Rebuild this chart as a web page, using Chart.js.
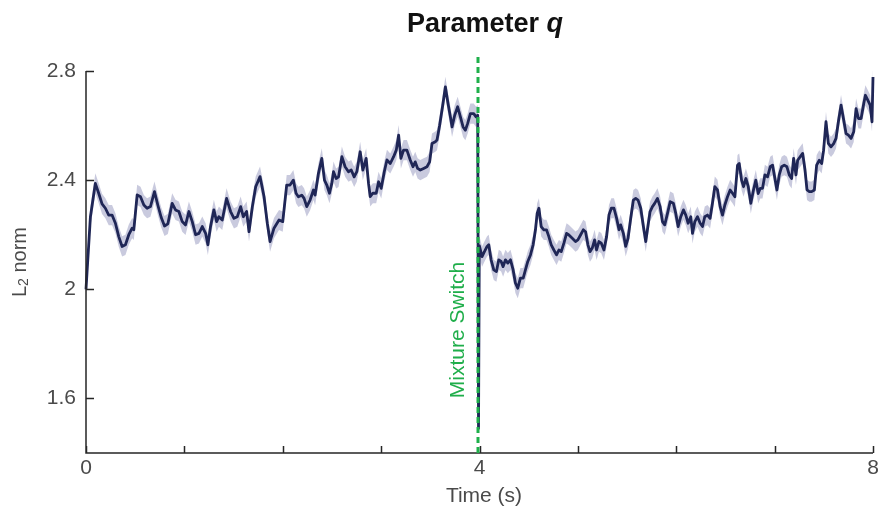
<!DOCTYPE html>
<html><head><meta charset="utf-8">
<script src="https://cdn.jsdelivr.net/npm/chart.js@4.4.1/dist/chart.umd.min.js"></script>
<style>html,body{margin:0;padding:0;background:#fff;}#wrap{width:883px;height:514px;position:relative;}</style>
</head><body><div id="wrap"><canvas id="c" width="883" height="514"></canvas></div>
<script>
const chartTitle = 'Parameter ';
const titleSymbol = 'q';
const xAxisTitle = 'Time (s)';
const yAxisTitleMain = 'L';
const yAxisTitleSub = '2';
const yAxisTitleRest = ' norm';
const switchLabel = 'Mixture Switch';
const switchTime = 4;
const xTickLabels = [0, 4, 8];
const xTickMarks = [0, 1, 2, 3, 4, 5, 6, 7, 8];
const yTicks = [1.6, 2, 2.4, 2.8];
const yTickLabels = ['1.6', '2', '2.4', '2.8'];
const bandHalfWidth = 0.037;

// [time (s), mean L2 norm]
const samplesSeg1 = [[0,2.0],[0.045,2.266],[0.095,2.388],[0.129,2.352],[0.163,2.313],[0.197,2.297],[0.231,2.272],[0.265,2.272],[0.299,2.242],[0.333,2.193],[0.367,2.157],[0.401,2.163],[0.435,2.200],[0.469,2.224],[0.486,2.218],[0.520,2.346],[0.554,2.339],[0.588,2.309],[0.621,2.297],[0.655,2.303],[0.696,2.358],[0.730,2.309],[0.764,2.264],[0.798,2.232],[0.832,2.240],[0.876,2.315],[0.910,2.291],[0.944,2.285],[0.978,2.248],[1.012,2.236],[1.046,2.285],[1.080,2.248],[1.114,2.200],[1.148,2.205],[1.182,2.230],[1.216,2.205],[1.239,2.163],[1.266,2.230],[1.300,2.291],[1.328,2.248],[1.351,2.266],[1.385,2.254],[1.429,2.333],[1.470,2.285],[1.504,2.260],[1.538,2.266],[1.572,2.303],[1.599,2.266],[1.633,2.285],[1.657,2.211],[1.691,2.303],[1.725,2.376],[1.769,2.413],[1.810,2.339],[1.843,2.242],[1.871,2.175],[1.911,2.224],[1.962,2.254],[2.000,2.248]];
const samplesSeg2 = [[2.040,2.382],[2.074,2.382],[2.108,2.400],[2.135,2.352],[2.159,2.339],[2.193,2.345],[2.217,2.333],[2.244,2.303],[2.278,2.327],[2.312,2.364],[2.329,2.345],[2.363,2.425],[2.397,2.480],[2.424,2.400],[2.448,2.382],[2.475,2.352],[2.499,2.388],[2.516,2.431],[2.543,2.406],[2.567,2.412],[2.601,2.486],[2.634,2.449],[2.668,2.431],[2.696,2.437],[2.726,2.412],[2.753,2.431],[2.787,2.504],[2.814,2.437],[2.848,2.480],[2.872,2.388],[2.889,2.340],[2.916,2.352],[2.950,2.352],[2.974,2.394],[3.001,2.370],[3.032,2.431],[3.059,2.474],[3.093,2.461],[3.127,2.486],[3.154,2.510],[3.178,2.565],[3.201,2.480],[3.228,2.510],[3.262,2.510],[3.296,2.474],[3.324,2.449],[3.347,2.467],[3.371,2.443],[3.398,2.437],[3.432,2.443],[3.466,2.449],[3.493,2.467],[3.517,2.534],[3.551,2.541],[3.568,2.547],[3.595,2.601],[3.629,2.681],[3.653,2.742],[3.680,2.681],[3.704,2.632],[3.721,2.595],[3.748,2.638],[3.778,2.669],[3.806,2.632],[3.833,2.595],[3.856,2.583],[3.880,2.608],[3.907,2.644],[3.941,2.644],[3.965,2.632],[3.982,2.638],[3.990,1.490],[3.998,2.160]];
const samplesSeg3 = [[4.026,2.120],[4.050,2.138],[4.077,2.157],[4.094,2.163],[4.118,2.108],[4.145,2.071],[4.172,2.065],[4.196,2.108],[4.220,2.102],[4.240,2.083],[4.264,2.108],[4.288,2.096],[4.315,2.108],[4.342,2.071],[4.365,2.023],[4.389,2.004],[4.416,2.041],[4.444,2.041],[4.467,2.071],[4.491,2.102],[4.518,2.126],[4.545,2.163],[4.569,2.218],[4.586,2.278],[4.604,2.297],[4.627,2.230],[4.654,2.218],[4.681,2.218],[4.705,2.193],[4.729,2.163],[4.756,2.144],[4.783,2.126],[4.807,2.144],[4.831,2.138],[4.858,2.169],[4.885,2.205],[4.909,2.199],[4.943,2.187],[4.976,2.175],[5.000,2.181],[5.027,2.199],[5.055,2.218],[5.078,2.211],[5.102,2.163],[5.123,2.138],[5.146,2.151],[5.170,2.181],[5.190,2.144],[5.214,2.175],[5.238,2.169],[5.265,2.144],[5.292,2.193],[5.316,2.272],[5.340,2.297],[5.367,2.297],[5.394,2.260],[5.418,2.218],[5.435,2.236],[5.462,2.205],[5.486,2.157],[5.510,2.187],[5.537,2.260],[5.564,2.327],[5.588,2.333],[5.612,2.327],[5.639,2.297],[5.666,2.230],[5.690,2.175],[5.714,2.236],[5.734,2.285],[5.758,2.303],[5.781,2.315],[5.809,2.333],[5.836,2.303],[5.860,2.248],[5.883,2.236],[5.911,2.278],[5.938,2.321],[5.971,2.315]];
const samplesSeg4 = [[5.995,2.278],[6.019,2.230],[6.046,2.266],[6.073,2.291],[6.097,2.272],[6.121,2.242],[6.148,2.266],[6.165,2.205],[6.189,2.248],[6.216,2.266],[6.243,2.242],[6.267,2.230],[6.290,2.266],[6.317,2.272],[6.344,2.260],[6.368,2.315],[6.392,2.376],[6.419,2.364],[6.446,2.303],[6.470,2.272],[6.494,2.309],[6.521,2.339],[6.548,2.364],[6.572,2.352],[6.596,2.339],[6.623,2.455],[6.640,2.461],[6.664,2.400],[6.684,2.376],[6.708,2.406],[6.732,2.376],[6.758,2.315],[6.785,2.364],[6.809,2.400],[6.833,2.351],[6.854,2.370],[6.877,2.370],[6.901,2.419],[6.928,2.412],[6.955,2.449],[6.979,2.455],[7.003,2.406],[7.023,2.364],[7.047,2.419],[7.071,2.449],[7.098,2.455],[7.125,2.449],[7.149,2.419],[7.173,2.406],[7.193,2.480],[7.217,2.419],[7.234,2.473],[7.261,2.486],[7.285,2.498],[7.309,2.437],[7.329,2.364],[7.353,2.358],[7.376,2.358],[7.404,2.364],[7.427,2.455],[7.454,2.473],[7.478,2.461],[7.498,2.510],[7.522,2.614],[7.546,2.535],[7.573,2.522],[7.600,2.534],[7.624,2.553],[7.648,2.614],[7.675,2.675],[7.702,2.620],[7.726,2.571],[7.750,2.565],[7.777,2.553],[7.804,2.577],[7.828,2.662],[7.852,2.626],[7.879,2.626],[7.906,2.681],[7.923,2.711],[7.947,2.693],[7.971,2.675],[7.990,2.614],[8.0,2.778]];

const FONT = "'Liberation Sans', Arial, Helvetica, sans-serif";
const allSamples = [...samplesSeg1, ...samplesSeg2, ...samplesSeg3, ...samplesSeg4];
const meanPts = allSamples.map(([t, v]) => ({x: t, y: v}));
const upperPts = allSamples.map(([t, v]) => ({x: t, y: v + bandHalfWidth}));
const lowerPts = allSamples.map(([t, v]) => ({x: t, y: v - bandHalfWidth}));

const decor = {
  id: 'decor',
  afterDatasetsDraw(chart) {
    const {ctx, chartArea: {left, right, top, bottom}, scales: {x, y}} = chart;
    ctx.save();
    // axes
    ctx.strokeStyle = '#262626';
    ctx.lineWidth = 1.5;
    ctx.beginPath();
    ctx.moveTo(left, y.getPixelForValue(yTicks[yTicks.length - 1]));
    ctx.lineTo(left, bottom);
    ctx.lineTo(x.getPixelForValue(xTickMarks[xTickMarks.length - 1]), bottom);
    yTicks.forEach(v => { const py = Math.round(y.getPixelForValue(v)) + 0.5; ctx.moveTo(left, py); ctx.lineTo(left + 8, py); });
    xTickMarks.forEach(v => { const px = Math.round(x.getPixelForValue(v)) + 0.5; ctx.moveTo(px, bottom); ctx.lineTo(px, bottom - 7); });
    ctx.stroke();
    // switch line
    const sx = x.getPixelForValue(switchTime) - 1.5;
    ctx.strokeStyle = '#1fb04b';
    ctx.lineWidth = 3;
    ctx.setLineDash([6, 4]);
    ctx.beginPath();
    ctx.moveTo(sx, top - 14);
    ctx.lineTo(sx, bottom);
    ctx.stroke();
    ctx.setLineDash([]);
    // switch label
    ctx.save();
    ctx.translate(sx - 20, 330);
    ctx.rotate(-Math.PI / 2);
    ctx.fillStyle = '#1fae4a';
    ctx.font = '21px ' + FONT;
    ctx.textAlign = 'center';
    ctx.textBaseline = 'middle';
    ctx.fillText(switchLabel, 0, 0);
    ctx.restore();
    // title
    ctx.fillStyle = '#111';
    ctx.textBaseline = 'alphabetic';
    ctx.textAlign = 'left';
    const f1 = 'bold 27px ' + FONT, f2 = 'italic bold 27px ' + FONT;
    ctx.font = f1; const w1 = ctx.measureText(chartTitle).width;
    ctx.font = f2; const w2 = ctx.measureText(titleSymbol).width;
    const tx = 485 - (w1 + w2) / 2;
    ctx.font = f1; ctx.fillText(chartTitle, tx, 32);
    ctx.font = f2; ctx.fillText(titleSymbol, tx + w1, 32);
    // x axis title
    ctx.fillStyle = '#4a4a4a';
    ctx.font = '21px ' + FONT;
    ctx.textAlign = 'center';
    ctx.textBaseline = 'middle';
    ctx.fillText(xAxisTitle, 484, 496);
    // y axis title
    ctx.save();
    ctx.translate(20, 262);
    ctx.rotate(-Math.PI / 2);
    ctx.textAlign = 'left';
    ctx.textBaseline = 'middle';
    const fm = '20px ' + FONT, fs = '14px ' + FONT;
    ctx.font = fm; const a = ctx.measureText(yAxisTitleMain).width;
    const c = ctx.measureText(yAxisTitleRest).width;
    ctx.font = fs; const b = ctx.measureText(yAxisTitleSub).width;
    let cx = -(a + b + c) / 2;
    ctx.font = fm; ctx.fillText(yAxisTitleMain, cx, 0); cx += a;
    ctx.font = fs; ctx.fillText(yAxisTitleSub, cx, 4); cx += b;
    ctx.font = fm; ctx.fillText(yAxisTitleRest, cx, 0);
    ctx.restore();
    ctx.restore();
  }
};

new Chart(document.getElementById('c'), {
  type: 'line',
  data: {
    datasets: [
      {data: meanPts, borderColor: '#1f2656', borderWidth: 2.8, pointRadius: 0, tension: 0, fill: false, order: 0, clip: false, borderJoinStyle: 'round'},
      {data: lowerPts, borderColor: 'rgba(0,0,0,0)', borderWidth: 0, pointRadius: 0, tension: 0, fill: false, order: 2},
      {data: upperPts, borderColor: 'rgba(0,0,0,0)', borderWidth: 0, pointRadius: 0, tension: 0, fill: 1, backgroundColor: 'rgba(192,193,216,0.85)', order: 1}
    ]
  },
  options: {
    responsive: false,
    animation: false,
    layout: {padding: {left: 0, right: 10, top: 71, bottom: 0}},
    plugins: {legend: {display: false}, tooltip: {enabled: false}, title: {display: false}},
    scales: {
      x: {
        type: 'linear', min: 0, max: 8,
        afterBuildTicks: s => { s.ticks = xTickLabels.map(v => ({value: v})); },
        afterFit: s => { s.height = 61; },
        grid: {display: false, drawTicks: false},
        border: {display: false},
        ticks: {padding: 3, color: '#4a4a4a', font: {family: FONT, size: 21}, maxRotation: 0, autoSkip: false, callback: v => String(v)}
      },
      y: {
        type: 'linear', min: 1.4, max: 2.8,
        afterBuildTicks: s => { s.ticks = yTicks.map(v => ({value: v})); },
        afterFit: s => { s.width = 86; },
        grid: {display: false, drawTicks: false},
        border: {display: false},
        ticks: {padding: 10, color: '#4a4a4a', font: {family: FONT, size: 21}, autoSkip: false, callback: v => yTickLabels[yTicks.indexOf(v)]}
      }
    }
  },
  plugins: [decor]
});
</script></body></html>
